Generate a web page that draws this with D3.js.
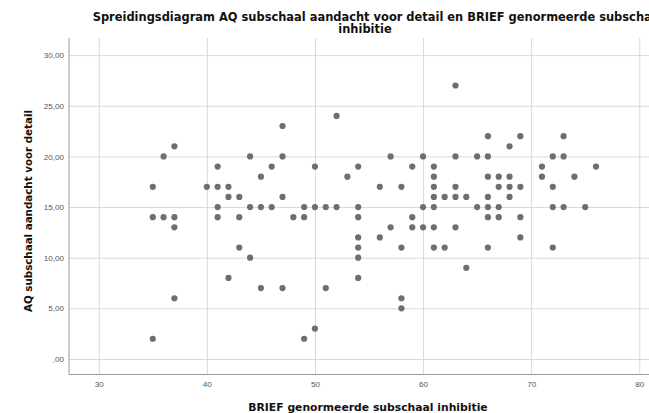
<!DOCTYPE html>
<html>
<head>
<meta charset="utf-8">
<script src="https://cdn.jsdelivr.net/npm/d3@7"></script>
<style>
  body { margin: 0; background: #fff; }
  svg { display: block; font-family: "DejaVu Sans", sans-serif; }
  .grid line { stroke: #d9d9d9; }
  .grid path { display: none; }
  .tick text { fill: #555; font-size: 8.1px; }
  .axis-title { font-weight: bold; font-size: 10.8px; fill: #111; }
  .y-title { font-size: 10.3px; }
  .title { font-weight: bold; font-size: 11.45px; fill: #111; }
</style>
</head>
<body>
<svg id="chart" width="649" height="413"></svg>
<script>
// BRIEF genormeerde subschaal inhibitie (x) en AQ aandacht voor detail (y)
var briefScores = [
  35, 35, 35, 36, 36, 37, 37, 37, 37, 40,
  41, 41, 41, 41, 42, 42, 42, 43, 43, 43,
  44, 44, 44, 45, 45, 45, 46, 46, 47, 47,
  47, 47, 48, 49, 49, 49, 50, 50, 50, 51,
  51, 52, 52, 53, 54, 54, 54, 54, 54, 54,
  54, 56, 56, 57, 57, 58, 58, 58, 58, 59,
  59, 59, 60, 60, 60, 61, 61, 61, 61, 61,
  61, 61, 62, 62, 63, 63, 63, 63, 63, 64,
  64, 65, 65, 66, 66, 66, 66, 66, 66, 66,
  67, 67, 67, 67, 68, 68, 68, 68, 69, 69,
  69, 69, 71, 71, 72, 72, 72, 72, 73, 73,
  73, 74, 75, 76
];
var aqScores = [
  17, 14, 2, 20, 14, 21, 14, 13, 6, 17,
  19, 17, 15, 14, 17, 16, 8, 16, 14, 11,
  20, 15, 10, 18, 15, 7, 19, 15, 23, 20,
  16, 7, 14, 15, 14, 2, 19, 15, 3, 15,
  7, 24, 15, 18, 19, 15, 14, 12, 11, 10,
  8, 17, 12, 20, 13, 17, 11, 6, 5, 19,
  14, 13, 20, 15, 13, 19, 18, 17, 16, 15,
  13, 11, 16, 11, 27, 20, 17, 16, 13, 16,
  9, 20, 15, 22, 20, 18, 16, 15, 14, 11,
  18, 17, 15, 14, 21, 18, 17, 16, 22, 17,
  14, 12, 19, 18, 20, 17, 15, 11, 22, 20,
  15, 18, 15, 19
];
var xTicks = [30, 40, 50, 60, 70, 80];
var yTicks = [0, 5, 10, 15, 20, 25, 30];

var titleLine1 = "Spreidingsdiagram AQ subschaal aandacht voor detail en BRIEF genormeerde subschaal";
var titleLine2 = "inhibitie";
var xTitle = "BRIEF genormeerde subschaal inhibitie";
var yTitle = "AQ subschaal aandacht voor detail";

var svg = d3.select("#chart");

var plotLeft = 69, plotRight = 669, plotTop = 38, plotBottom = 374.5;

var x = d3.scaleLinear().domain([27.25, 82.75]).range([plotLeft, plotRight]);
var y = d3.scaleLinear().domain([-1.53, 31.69]).range([plotBottom, plotTop]);

// comma decimals, zero shown as ",00" like SPSS
var fmtY = function (d) {
  return d === 0 ? ",00" : d3.format(".2f")(d).replace(".", ",");
};

svg.append("g").
attr("class", "grid").
attr("transform", "translate(0," + plotBottom + ")").
call(d3.axisBottom(x).tickValues(xTicks).tickSize(-(plotBottom - plotTop)).tickPadding(7)).
selectAll(".tick text").attr("dy", "0.71em");

svg.append("g").
attr("class", "grid").
attr("transform", "translate(" + plotLeft + ",0)").
call(d3.axisLeft(y).tickValues(yTicks).tickFormat(fmtY).tickSize(-(plotRight - plotLeft)).tickPadding(5));

// axis lines
svg.append("line").
attr("x1", plotLeft).attr("x2", plotLeft).
attr("y1", plotTop).attr("y2", plotBottom).
attr("stroke", "#9a9a9a");
svg.append("line").
attr("x1", plotLeft).attr("x2", plotRight).
attr("y1", plotBottom).attr("y2", plotBottom).
attr("stroke", "#9a9a9a");

svg.append("g").
selectAll("circle").
data(briefScores).
enter().append("circle").
attr("cx", function (d) {return x(d);}).
attr("cy", function (d, i) {return y(aqScores[i]);}).
attr("r", 3.1).
attr("fill", "#6e6e6e");

svg.append("text").
attr("class", "title").
attr("x", 92.7).
attr("y", 20.5).
text(titleLine1);

svg.append("text").
attr("class", "title").
attr("x", 365).
attr("y", 33).
attr("text-anchor", "middle").
text(titleLine2);

svg.append("text").
attr("class", "axis-title").
attr("x", 368).
attr("y", 411).
attr("text-anchor", "middle").
text(xTitle);

svg.append("text").
attr("class", "axis-title y-title").
attr("transform", "translate(32,211) rotate(-90)").
attr("text-anchor", "middle").
text(yTitle);
</script>
</body>
</html>
